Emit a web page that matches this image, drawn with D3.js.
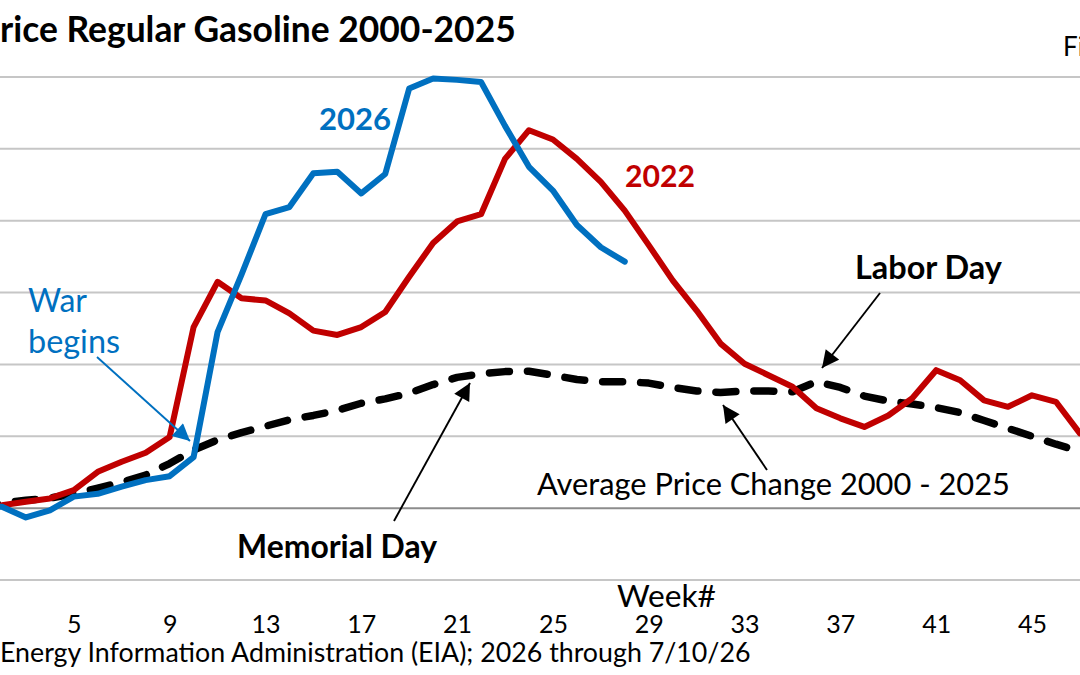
<!DOCTYPE html>
<html>
<head>
<meta charset="utf-8">
<script src="https://cdn.jsdelivr.net/npm/d3@7"></script>
<style>
  html, body { margin: 0; padding: 0; background: #fff; }
  svg { display: block; font-family: Lato, "Open Sans", "Noto Sans", sans-serif; }
</style>
</head>
<body>
<svg id="chart" width="1080" height="675"></svg>
<script>
// ---------------- DATA ----------------
// Cumulative % change in regular gasoline price since week 1
const weeks2026 = d3.range(1, 29);
const values2026 = [0, 0.2, -1.3, -0.3, 1.6, 2.0, 3.0, 3.9, 4.45, 7.1,
  24.5, 32.5, 40.9, 41.9, 46.6, 46.8, 43.8, 46.5, 58.4, 59.8,
  59.6, 59.3, 53.2, 47.5, 44.2, 39.4, 36.3, 34.3];

const weeks2022 = d3.range(1, 48);
const values2022 = [0, 0.4, 0.9, 1.35, 2.5, 5.05, 6.45, 7.7, 9.9, 25.2,
  31.5, 29.2, 28.9, 27.1, 24.7, 24.1, 25.2, 27.3, 32.2, 36.9,
  39.9, 40.9, 48.6, 52.6, 51.3, 48.6, 45.4, 41.4, 36.6, 31.7,
  27.5, 22.9, 20.1, 18.5, 16.9, 13.9, 12.5, 11.3, 12.9, 15.3,
  19.2, 17.8, 15.0, 14.1, 15.7, 14.8, 10.4];

const weeksAvg = d3.range(1, 48);
const valuesAvg = [0, 0.7, 1.1, 1.4, 2.0, 2.8, 3.6, 4.6, 6.2, 8.1,
  9.5, 10.5, 11.4, 12.3, 12.9, 13.6, 14.6, 15.2, 16.0, 17.2,
  18.2, 18.7, 19.0, 19.05, 18.5, 17.9, 17.6, 17.6, 17.4, 16.8,
  16.3, 16.1, 16.3, 16.3, 16.2, 17.6, 16.8, 15.6, 14.9, 14.5,
  14.0, 13.3, 12.2, 11.1, 10.0, 8.9, 7.9];

const weekTicks = [5, 9, 13, 17, 21, 25, 29, 33, 37, 41, 45];
const gridValues = [-10, 0, 10, 20, 30, 40, 50, 60];

// ---------------- LAYOUT ----------------
const W = 1080, H = 675;
const svg = d3.select("#chart");

const x = d3.scaleLinear().domain([1, 45]).range([-22, 1032]);
const y = d3.scaleLinear().domain([-10, 60]).range([580, 77]);

const BLUE = "#0070C0", RED = "#C00000";

// gridlines
svg.append("g").selectAll("line")
  .data(gridValues)
  .join("line")
  .attr("x1", 0).attr("x2", W)
  .attr("y1", d => y(d)).attr("y2", d => y(d))
  .attr("stroke", d => d === 0 ? "#8c8c8c" : "#c6c6c6")
  .attr("stroke-width", 2);

// x axis labels
const xAxis = d3.axisBottom(x).tickValues(weekTicks).tickSize(0).tickFormat(d3.format("d"));
const gx = svg.append("g").attr("transform", "translate(0,580)").call(xAxis);
gx.select(".domain").remove();
gx.selectAll("text")
  .attr("y", 53).attr("dy", null)
  .attr("fill", "#000")
  .style("font-size", "25px")
  .style("font-family", "Lato, 'Open Sans', sans-serif");

// lines
const line = d3.line().x(d => x(d[0])).y(d => y(d[1]));

svg.append("path")
  .datum(d3.zip(weeksAvg, valuesAvg))
  .attr("d", line)
  .attr("fill", "none")
  .attr("stroke", "#000")
  .attr("stroke-width", 7.5)
  .attr("stroke-dasharray", "20 18")
  .attr("stroke-linecap", "round")
  .attr("stroke-linejoin", "round");

svg.append("path")
  .datum(d3.zip(weeks2022, values2022))
  .attr("d", line)
  .attr("fill", "none")
  .attr("stroke", RED)
  .attr("stroke-width", 6)
  .attr("stroke-linejoin", "round")
  .attr("stroke-linecap", "round");

svg.append("path")
  .datum(d3.zip(weeks2026, values2026))
  .attr("d", line)
  .attr("fill", "none")
  .attr("stroke", BLUE)
  .attr("stroke-width", 6)
  .attr("stroke-linejoin", "round")
  .attr("stroke-linecap", "round");

// arrow markers
const defs = svg.append("defs");
function marker(id, color) {
  defs.append("marker")
    .attr("id", id)
    .attr("viewBox", "0 0 10 10")
    .attr("refX", 10).attr("refY", 5)
    .attr("markerWidth", 10).attr("markerHeight", 9)
    .attr("markerUnits", "strokeWidth")
    .attr("orient", "auto")
    .append("path")
    .attr("d", "M0,0 L10,5 L0,10 Z")
    .attr("fill", color);
}
marker("arrBlack", "#000");
marker("arrBlue", BLUE);

function arrow(x1, y1, x2, y2, color, id) {
  svg.append("line")
    .attr("x1", x1).attr("y1", y1).attr("x2", x2).attr("y2", y2)
    .attr("stroke", color).attr("stroke-width", 1.9)
    .attr("marker-end", `url(#${id})`);
}

arrow(97, 357, 190, 441, BLUE, "arrBlue");
arrow(880, 293, 822, 368, "#000", "arrBlack");
arrow(394, 521, 470, 383, "#000", "arrBlack");
arrow(767, 470, 723, 405, "#000", "arrBlack");

// text helper: fit font-size so text spans a target width
function label(str, x0, baseline, width, opts = {}) {
  const t = svg.append("text")
    .attr("x", x0).attr("y", baseline)
    .attr("fill", opts.color || "#000")
    .style("font-weight", opts.bold ? "700" : "400")
    .style("font-size", "100px")
    .text(str);
  const w100 = t.node().getComputedTextLength();
  const fs = 100 * width / w100;
  t.style("font-size", fs.toFixed(2) + "px");
  return t;
}

label("rice Regular Gasoline 2000-2025", 0, 42, 516, { bold: true });
svg.append("text").attr("x", 1063).attr("y", 56)
  .style("font-size", "26px").attr("fill", "#000").text("Fi");

label("2026", 319, 130, 72, { bold: true, color: BLUE });
label("2022", 625, 187, 70, { bold: true, color: RED });
label("War", 28, 312, 59, { color: BLUE });
label("begins", 28, 353, 92, { color: BLUE });
label("Labor Day", 855, 279, 147, { bold: true });
label("Memorial Day", 237, 558, 200, { bold: true });
label("Average Price Change 2000 - 2025", 537, 495, 473);
label("Week#", 617, 607, 99);
label("Energy Information Administration (EIA); 2026 through 7/10/26", 0, 662, 751);
</script>
</body>
</html>
